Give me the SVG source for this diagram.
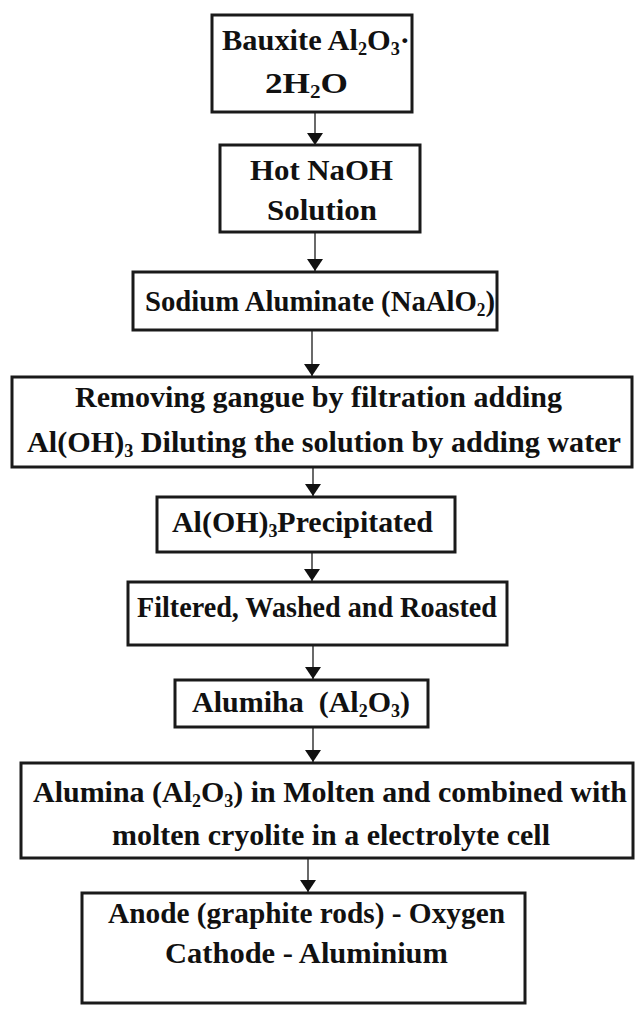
<svg xmlns="http://www.w3.org/2000/svg" width="635" height="1011" viewBox="0 0 635 1011">
<defs>
<marker id="ah" viewBox="0 0 12 16" markerWidth="12" markerHeight="16" refX="12" refY="8" orient="auto" markerUnits="userSpaceOnUse">
<path d="M0,0 L12,8 L0,16 Z" fill="#111"/>
</marker>
<style>
.box{fill:#fff;stroke:#1a1a1a;stroke-width:3}
.t{font-family:'Liberation Serif','DejaVu Serif',serif;font-weight:bold;font-size:30px;fill:#111}
.s{font-size:18px}
.c{stroke:#444;stroke-width:1.6;fill:none;marker-end:url(#ah)}
</style>
</defs>
<rect width="635" height="1011" fill="#fff"/>
<g id="connectors">
<line class="c" x1="315" y1="112" x2="315" y2="145"/>
<line class="c" x1="315" y1="232" x2="315" y2="271"/>
<line class="c" x1="312" y1="330" x2="312" y2="376"/>
<line class="c" x1="313" y1="467" x2="313" y2="496"/>
<line class="c" x1="312" y1="552" x2="312" y2="581"/>
<line class="c" x1="313" y1="645" x2="313" y2="679"/>
<line class="c" x1="313" y1="727" x2="313" y2="762"/>
<line class="c" x1="308" y1="858" x2="308" y2="892"/>
</g>
<g id="bauxite">
<rect class="box" x="212" y="15" width="200" height="97"/>
<text class="t" x="222" y="50" textLength="188" lengthAdjust="spacingAndGlyphs">Bauxite Al<tspan class="s" dy="5">2</tspan><tspan dy="-5">O</tspan><tspan class="s" dy="5">3</tspan><tspan dy="-5">·</tspan></text>
<text class="t" x="265" y="93" textLength="83" lengthAdjust="spacingAndGlyphs">2H<tspan class="s" dy="5">2</tspan><tspan dy="-5">O</tspan></text>
</g>
<g id="naoh">
<rect class="box" x="220" y="145" width="200" height="87"/>
<text class="t" x="250" y="180" textLength="143" lengthAdjust="spacingAndGlyphs">Hot NaOH</text>
<text class="t" x="267" y="220" textLength="110" lengthAdjust="spacingAndGlyphs">Solution</text>
</g>
<g id="aluminate">
<rect class="box" x="133" y="272" width="364" height="58"/>
<text class="t" x="145" y="311" textLength="350" lengthAdjust="spacingAndGlyphs">Sodium Aluminate (NaAlO<tspan class="s" dy="5">2</tspan><tspan dy="-5">)</tspan></text>
</g>
<g id="gangue">
<rect class="box" x="12" y="377" width="620" height="90"/>
<text class="t" x="75" y="407" textLength="487" lengthAdjust="spacingAndGlyphs">Removing gangue by filtration adding</text>
<text class="t" x="27" y="452" textLength="594" lengthAdjust="spacingAndGlyphs">Al(OH)<tspan class="s" dy="5">3</tspan><tspan dy="-5"> Diluting the solution by adding water</tspan></text>
</g>
<g id="precipitated">
<rect class="box" x="157" y="497" width="298" height="55"/>
<text class="t" x="172" y="532" textLength="261" lengthAdjust="spacingAndGlyphs">Al(OH)<tspan class="s" dy="5">3</tspan><tspan dy="-5">Precipitated</tspan></text>
</g>
<g id="filtered">
<rect class="box" x="128" y="582" width="379" height="63"/>
<text class="t" x="137" y="617" textLength="360" lengthAdjust="spacingAndGlyphs">Filtered, Washed and Roasted</text>
</g>
<g id="alumiha">
<rect class="box" x="175" y="680" width="253" height="47"/>
<text class="t" x="192" y="712" textLength="218" lengthAdjust="spacingAndGlyphs" xml:space="preserve">Alumiha  (Al<tspan class="s" dy="5">2</tspan><tspan dy="-5">O</tspan><tspan class="s" dy="5">3</tspan><tspan dy="-5">)</tspan></text>
</g>
<g id="molten">
<rect class="box" x="21" y="763" width="612" height="95"/>
<text class="t" x="33" y="802" textLength="594" lengthAdjust="spacingAndGlyphs">Alumina (Al<tspan class="s" dy="5">2</tspan><tspan dy="-5">O</tspan><tspan class="s" dy="5">3</tspan><tspan dy="-5">) in Molten and combined with</tspan></text>
<text class="t" x="112" y="845" textLength="438" lengthAdjust="spacingAndGlyphs">molten cryolite in a electrolyte cell</text>
</g>
<g id="electrodes">
<rect class="box" x="82" y="893" width="443" height="110"/>
<text class="t" x="108" y="923" textLength="397" lengthAdjust="spacingAndGlyphs">Anode (graphite rods) - Oxygen</text>
<text class="t" x="165" y="963" textLength="283" lengthAdjust="spacingAndGlyphs">Cathode - Aluminium</text>
</g>
</svg>
